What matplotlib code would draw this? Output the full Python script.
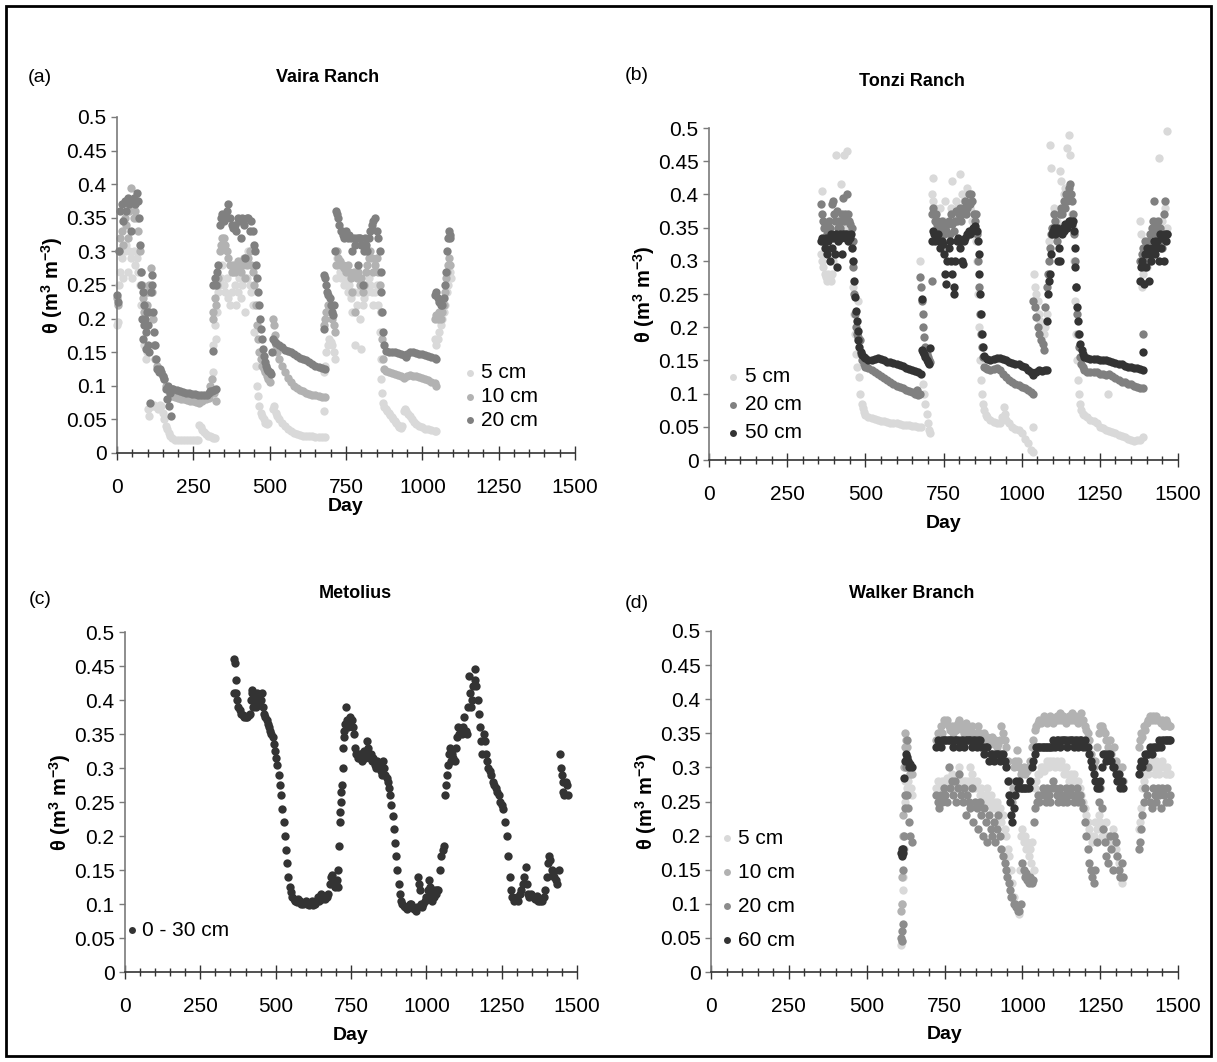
import matplotlib
matplotlib.use('agg')
import matplotlib.pyplot as plt
import numpy as np

plt.rcParams['font.family'] = ['Liberation Sans', 'DejaVu Sans']
plt.rcParams['mathtext.fontset'] = 'custom'
plt.rcParams['mathtext.rm'] = 'Liberation Sans'
plt.rcParams['mathtext.bf'] = 'Liberation Sans:bold'

W, H = 1217, 1062

# ---------------- data (day, theta) ----------------
# (a) Vaira Ranch
vaira_5cm = [(0, .19), (3, .195), (6, .25), (10, .27), (15, .29), (20, .26), (25, .30), (30, .31), (35, .27),
             (40, .30), (45, .29), (50, .26), (55, .30), (60, .28), (65, .29), (70, .27), (75, .25), (80, .22),
             (85, .20), (90, .16), (94, .14), (98, .15), (102, .065), (106, .055), (110, .07), (115, .07),
             (120, .072), (125, .07), (130, .068), (135, .065), (140, .072), (145, .07), (150, .06), (155, .05),
             (160, .04), (165, .035), (170, .03), (175, .025), (180, .022), (190, .02), (200, .02), (210, .02),
             (220, .02), (230, .02), (240, .02), (250, .02), (260, .02), (266, .02), (270, .042), (275, .038),
             (280, .034), (286, .031), (292, .028), (298, .026), (304, .025), (310, .024), (316, .022), (322, .022),
             (313, .12), (316, .16), (320, .19), (324, .17), (328, .21), (332, .24), (336, .25), (340, .26),
             (345, .28), (350, .25), (355, .24), (360, .26), (365, .23), (370, .22), (375, .24), (380, .27),
             (385, .25), (390, .22), (395, .24), (400, .26), (405, .23), (410, .25), (415, .28), (420, .21),
             (425, .26), (430, .30), (435, .25), (440, .24), (445, .22), (450, .18), (454, .13), (458, .10),
             (462, .085), (466, .07), (470, .06), (475, .055), (480, .05), (485, .045), (490, .043), (495, .045),
             (510, .065), (515, .07), (520, .06), (525, .055), (530, .05), (540, .045), (550, .04), (560, .036),
             (570, .032), (580, .03), (590, .028), (600, .027), (610, .026), (620, .025), (630, .025), (640, .025),
             (650, .024), (660, .024), (670, .024), (680, .024), (677, .063),
             (677, .12), (680, .13), (685, .15), (690, .16), (695, .17), (700, .165), (705, .16), (710, .15),
             (713, .14), (716, .26), (720, .29), (725, .28), (730, .27), (735, .26), (740, .27), (745, .25),
             (750, .26), (755, .24), (760, .25), (765, .23), (770, .21), (775, .24), (780, .16), (785, .22),
             (790, .24), (795, .20), (800, .155), (805, .22), (810, .23), (815, .25), (820, .24), (825, .26),
             (830, .25), (835, .24), (840, .22), (845, .24), (850, .25), (855, .22), (860, .18), (863, .14),
             (866, .11), (869, .09), (872, .075), (876, .068), (880, .065), (885, .062), (890, .06), (895, .056),
             (900, .053), (905, .05), (910, .047), (915, .044), (920, .041), (925, .039), (930, .037), (935, .04),
             (940, .063), (944, .065), (948, .062), (952, .058), (958, .055), (965, .05), (972, .046), (980, .043),
             (990, .04), (1000, .038), (1010, .036), (1020, .035), (1030, .034), (1040, .033), (1046, .033),
             (1041, .17), (1045, .16), (1050, .17), (1055, .18), (1060, .19), (1065, .20), (1070, .21),
             (1075, .22), (1080, .24), (1085, .25), (1090, .27), (1094, .26)]
vaira_10cm = [(0, .23), (3, .22), (6, .30), (10, .32), (15, .33), (20, .31), (25, .35), (30, .34), (35, .32),
              (40, .36), (45, .395), (50, .37), (55, .35), (60, .36), (65, .35), (70, .33), (74, .30), (78, .27),
              (82, .25), (86, .23), (90, .21), (94, .24), (98, .22), (102, .24), (106, .25), (110, .275),
              (114, .24), (118, .20), (122, .16), (126, .14), (130, .13), (135, .125), (140, .12), (145, .12),
              (150, .115), (155, .11), (160, .10), (165, .098), (170, .095), (175, .09), (180, .085), (190, .084),
              (200, .082), (210, .081), (220, .08), (230, .079), (240, .078), (250, .077), (260, .076), (270, .075),
              (280, .078), (290, .08), (300, .082), (306, .10), (312, .11), (318, .09), (324, .078),
              (313, .20), (316, .21), (320, .23), (324, .22), (328, .25), (332, .26), (336, .30), (340, .31),
              (345, .32), (350, .32), (355, .31), (360, .30), (365, .29), (370, .28), (375, .27), (380, .28),
              (385, .27), (390, .28), (395, .285), (400, .275), (405, .27), (410, .28), (415, .29), (420, .26),
              (425, .28), (430, .29), (435, .30), (440, .28), (445, .27), (450, .25), (454, .22), (458, .19),
              (462, .17), (466, .15), (470, .14), (475, .13), (480, .125), (485, .12), (490, .115), (495, .11),
              (500, .105), (510, .20), (513, .19), (516, .175), (520, .16), (525, .15), (530, .14), (540, .13),
              (550, .12), (560, .112), (570, .105), (580, .10), (590, .097), (600, .094), (610, .092), (620, .09),
              (630, .088), (640, .087), (650, .086), (660, .085), (670, .084), (680, .083),
              (677, .19), (680, .20), (685, .21), (690, .22), (695, .215), (700, .21), (705, .20), (710, .19),
              (713, .18), (716, .28), (720, .30), (725, .29), (730, .285), (735, .28), (740, .28), (745, .275),
              (750, .27), (755, .28), (760, .27), (765, .26), (770, .24), (775, .27), (780, .21), (785, .26),
              (790, .27), (795, .25), (800, .26), (805, .24), (810, .25), (815, .27), (820, .28), (825, .29),
              (830, .30), (835, .29), (840, .27), (845, .28), (850, .29), (855, .27), (860, .25), (864, .21),
              (868, .17), (872, .14), (876, .125), (880, .122), (890, .12), (900, .119), (910, .118), (920, .116),
              (930, .114), (940, .112), (950, .114), (960, .116), (970, .115), (980, .114), (990, .113),
              (1000, .112), (1010, .11), (1020, .108), (1030, .106), (1040, .104), (1046, .10),
              (1041, .20), (1045, .205), (1050, .20), (1055, .21), (1060, .20), (1065, .21), (1070, .22),
              (1075, .24), (1078, .26), (1081, .27), (1084, .28), (1087, .29), (1090, .28)]
vaira_20cm = [(0, .235), (3, .225), (6, .30), (10, .36), (15, .37), (20, .345), (25, .375), (30, .36),
              (35, .38), (40, .37), (45, .33), (50, .375), (55, .38), (60, .37), (64, .387), (68, .375),
              (72, .35), (76, .31), (78, .25), (80, .27), (82, .20), (84, .24), (86, .17), (88, .22), (90, .19),
              (92, .20), (94, .155), (96, .18), (98, .21), (100, .16), (102, .19), (104, .15), (106, .21),
              (108, .075), (110, .24), (113, .265), (116, .25), (119, .21), (122, .18), (125, .16), (128, .14),
              (132, .125), (136, .12), (140, .125), (145, .12), (150, .115), (155, .11), (160, .095), (163, .08),
              (166, .10), (170, .07), (174, .09), (178, .055), (180, .095), (185, .095), (195, .094), (205, .092),
              (215, .091), (225, .09), (235, .089), (245, .088), (255, .088), (265, .087), (275, .087),
              (285, .086), (295, .086), (300, .09), (306, .092), (312, .093), (318, .094), (324, .095),
              (313, .152), (316, .25), (320, .26), (324, .25), (328, .27), (332, .28), (336, .34), (340, .35),
              (345, .355), (350, .345), (355, .35), (360, .36), (365, .37), (370, .35), (375, .34), (380, .335),
              (385, .34), (390, .33), (395, .35), (400, .345), (405, .32), (410, .35), (415, .34), (420, .29),
              (425, .35), (430, .35), (435, .33), (440, .345), (445, .33), (450, .31), (453, .30), (456, .28),
              (459, .26), (462, .24), (465, .22), (468, .20), (471, .185), (474, .17), (477, .155), (480, .145),
              (484, .135), (488, .13), (492, .125), (496, .122), (500, .12), (503, .118), (508, .15), (512, .17),
              (516, .165), (520, .163), (530, .16), (540, .157), (550, .154), (560, .152), (570, .15),
              (580, .147), (590, .145), (600, .142), (610, .14), (620, .138), (630, .135), (640, .133),
              (650, .13), (660, .128), (670, .126), (680, .125),
              (677, .265), (677, .184), (680, .26), (684, .25), (688, .24), (692, .235), (696, .23), (700, .22),
              (704, .21), (708, .205), (712, .22), (714, .30), (717, .36), (720, .355), (724, .35), (728, .34),
              (732, .33), (736, .33), (740, .325), (745, .32), (750, .33), (755, .32), (760, .325), (765, .32),
              (770, .30), (775, .32), (780, .31), (785, .32), (790, .28), (793, .32), (797, .32), (800, .31),
              (805, .25), (808, .30), (812, .32), (816, .31), (820, .30), (825, .32), (830, .33), (835, .34),
              (840, .345), (845, .35), (850, .33), (855, .32), (860, .30), (863, .27), (866, .24), (869, .21),
              (872, .18), (875, .16), (880, .152), (890, .15), (900, .15), (910, .15), (920, .149), (930, .148),
              (940, .146), (945, .143), (950, .148), (960, .15), (970, .15), (980, .149), (990, .148),
              (1000, .147), (1010, .146), (1020, .145), (1030, .143), (1040, .141), (1046, .14),
              (1041, .235), (1045, .24), (1050, .23), (1055, .225), (1060, .22), (1065, .22), (1070, .23),
              (1075, .25), (1078, .27), (1081, .30), (1084, .32), (1087, .33), (1090, .32), (1092, .325)]

# (b) Tonzi Ranch
tonzi_5cm = [(358, .31), (360, .405), (363, .30), (366, .29), (370, .28), (374, .275), (378, .27), (382, .28),
             (386, .275), (390, .27), (394, .28), (398, .30), (402, .31), (406, .46), (410, .37), (414, .33),
             (418, .34), (422, .415), (426, .35), (430, .36), (432, .46), (436, .34), (440, .465), (444, .35),
             (448, .33), (452, .34), (456, .32), (459, .30), (462, .26), (465, .22), (468, .19), (471, .16),
             (474, .14), (477, .24), (480, .125), (484, .10), (488, .085), (492, .078), (496, .072), (500, .068),
             (510, .065), (520, .063), (530, .061), (540, .06), (550, .059), (560, .058), (570, .057), (580, .056),
             (590, .055), (600, .055), (610, .054), (620, .053), (630, .052), (640, .052), (650, .051),
             (660, .051), (670, .05), (678, .05),
             (675, .30), (685, .115), (688, .10), (692, .085), (696, .07), (700, .055), (704, .045), (708, .04),
             (712, .40), (715, .39), (718, .425), (722, .38), (726, .35), (730, .36), (734, .34), (738, .38),
             (742, .35), (746, .33), (750, .36), (754, .39), (758, .35), (762, .34), (766, .36), (770, .33),
             (774, .38), (778, .42), (782, .37), (786, .36), (790, .39), (794, .38), (798, .37), (802, .43),
             (806, .38), (810, .40), (814, .39), (818, .38), (822, .37), (826, .41), (830, .39), (834, .38),
             (838, .375), (842, .36), (846, .34), (850, .35), (854, .33), (858, .30), (861, .25), (864, .20),
             (867, .15), (870, .12), (873, .10), (876, .085), (880, .075), (885, .068), (890, .065), (900, .06),
             (910, .057), (920, .055), (930, .055), (938, .065), (942, .08), (946, .07), (950, .06), (960, .055),
             (970, .05), (980, .047), (990, .045), (1000, .04), (1010, .032), (1020, .025), (1030, .015),
             (1036, .012),
             (1037, .05), (1040, .28), (1043, .26), (1047, .25), (1051, .24), (1055, .22), (1060, .21),
             (1065, .20), (1070, .19), (1075, .20), (1080, .22),
             (1087, .33), (1090, .475), (1094, .44), (1098, .35), (1102, .38), (1106, .36), (1110, .34),
             (1114, .36), (1118, .37), (1122, .435), (1126, .42), (1130, .38), (1134, .40), (1138, .41),
             (1142, .39), (1146, .47), (1150, .49), (1154, .46), (1158, .40), (1162, .37), (1165, .35),
             (1168, .30), (1171, .24), (1174, .19), (1177, .15), (1180, .12), (1183, .10), (1186, .085),
             (1190, .075), (1195, .07), (1200, .068), (1210, .065), (1220, .06), (1230, .058), (1240, .055),
             (1250, .05), (1260, .048), (1270, .045), (1276, .10), (1280, .043), (1290, .042), (1300, .04),
             (1310, .038), (1320, .036), (1330, .034), (1340, .032), (1350, .03), (1360, .029), (1370, .03),
             (1380, .03), (1388, .035),
             (1377, .36), (1381, .34), (1385, .26), (1389, .28), (1393, .30), (1397, .32), (1401, .29),
             (1405, .31), (1409, .33), (1413, .30), (1417, .32), (1421, .34), (1425, .36), (1429, .33),
             (1433, .35), (1439, .455), (1442, .32), (1446, .34), (1450, .36), (1454, .33), (1458, .38),
             (1464, .495), (1466, .35)]
tonzi_20cm = [(358, .385), (361, .37), (364, .36), (368, .35), (372, .355), (376, .34), (380, .35), (384, .36),
              (388, .35), (392, .385), (396, .39), (400, .37), (404, .36), (408, .375), (412, .35), (416, .36),
              (420, .35), (424, .37), (428, .395), (432, .36), (436, .37), (440, .40), (444, .37), (448, .36),
              (452, .355), (456, .35), (459, .33), (462, .29), (465, .25), (468, .22), (471, .20), (474, .19),
              (478, .185), (482, .18), (486, .16), (490, .15), (495, .145), (500, .14), (510, .138), (520, .135),
              (530, .133), (540, .13), (550, .126), (560, .123), (570, .12), (580, .117), (590, .114), (600, .112),
              (610, .11), (620, .108), (630, .106), (640, .104), (650, .102), (660, .10), (665, .105), (670, .098),
              (676, .10),
              (674, .275), (677, .26), (680, .24), (683, .22), (686, .20), (689, .185), (692, .17), (696, .16),
              (700, .155), (704, .15), (708, .148), (712, .27),
              (714, .37), (718, .38), (722, .36), (726, .37), (730, .355), (734, .36), (738, .35), (742, .345),
              (746, .36), (750, .34), (754, .35), (758, .345), (762, .355), (766, .36), (770, .34), (774, .37),
              (778, .355), (782, .345), (786, .36), (790, .375), (794, .36), (798, .37), (802, .38), (806, .36),
              (810, .37), (814, .38), (818, .39), (822, .37), (826, .38), (830, .40), (834, .385), (838, .40),
              (842, .39), (846, .37), (850, .36), (854, .37), (858, .34), (861, .30), (864, .26), (867, .22),
              (870, .19), (873, .17), (876, .155), (880, .14), (885, .138), (890, .137), (900, .136), (910, .137),
              (920, .138), (930, .135), (940, .13), (950, .125), (960, .12), (970, .118), (980, .115),
              (990, .113), (1000, .11), (1010, .108), (1020, .105), (1030, .102), (1035, .10),
              (1037, .24), (1042, .23), (1047, .215), (1052, .20), (1057, .19), (1062, .18), (1067, .175),
              (1071, .165), (1075, .23), (1080, .26), (1084, .28), (1087, .30),
              (1090, .32), (1094, .34), (1098, .35), (1102, .37), (1106, .36), (1110, .34), (1114, .33),
              (1118, .35), (1122, .37), (1126, .38), (1130, .37), (1134, .39), (1138, .38), (1142, .40),
              (1146, .39), (1150, .41), (1154, .415), (1158, .40), (1162, .39), (1165, .37), (1168, .34),
              (1171, .30), (1174, .26), (1177, .22), (1180, .19), (1183, .17), (1186, .155), (1190, .145),
              (1195, .14), (1200, .135), (1210, .133), (1220, .132), (1230, .133), (1240, .132), (1250, .13),
              (1260, .13), (1270, .128), (1280, .13), (1290, .127), (1300, .124), (1310, .12), (1320, .118),
              (1330, .117), (1340, .115), (1350, .114), (1360, .112), (1370, .11), (1380, .109), (1388, .108),
              (1389, .19),
              (1380, .30), (1384, .31), (1388, .32), (1392, .29), (1396, .33), (1400, .31), (1404, .33),
              (1408, .30), (1412, .34), (1416, .35), (1420, .36), (1424, .39), (1428, .35), (1432, .34),
              (1436, .36), (1440, .33), (1444, .35), (1448, .32), (1452, .34), (1456, .37), (1460, .39),
              (1464, .34)]
tonzi_50cm = [(358, .33), (362, .335), (366, .33), (370, .32), (374, .335), (378, .31), (382, .33), (386, .30),
              (390, .34), (394, .32), (398, .335), (402, .31), (406, .34), (410, .29), (414, .33), (418, .34),
              (422, .335), (426, .31), (430, .34), (434, .34), (438, .335), (442, .34), (446, .33), (450, .335),
              (455, .34), (458, .32), (460, .30), (463, .27), (466, .245), (469, .225), (472, .21), (475, .195),
              (478, .18), (481, .17), (485, .163), (490, .158), (495, .155), (500, .153), (510, .15), (520, .15),
              (530, .152), (540, .153), (550, .152), (560, .15), (570, .148), (580, .147), (590, .146),
              (600, .145), (610, .143), (620, .141), (630, .139), (640, .137), (650, .135), (660, .134),
              (670, .132), (678, .13),
              (680, .165), (684, .163), (688, .16), (692, .155), (696, .15), (700, .148), (704, .145),
              (682, .242), (708, .168),
              (712, .33), (716, .345), (720, .34), (724, .33), (728, .335), (732, .34), (736, .33), (740, .32),
              (744, .33), (748, .325), (752, .31), (756, .28), (759, .265), (762, .30), (766, .32), (770, .33),
              (774, .30), (778, .28), (782, .26), (785, .25), (788, .30), (792, .33), (796, .335), (800, .33),
              (804, .32), (808, .30), (812, .295), (816, .33), (820, .335), (824, .34), (828, .34), (832, .345),
              (836, .34), (840, .345), (844, .35), (848, .35), (852, .352), (856, .345), (859, .33), (862, .31),
              (865, .28), (868, .25), (871, .22), (874, .19), (877, .17), (880, .157), (890, .152), (900, .15),
              (910, .152), (920, .154), (930, .154), (940, .152), (950, .15), (960, .148), (970, .146),
              (980, .145), (990, .144), (1000, .142), (1010, .14), (1020, .136), (1030, .132), (1037, .128),
              (1045, .133), (1055, .135), (1065, .134), (1075, .135), (1081, .136),
              (1081, .21), (1084, .25), (1087, .27), (1090, .28), (1093, .31), (1096, .34), (1100, .345),
              (1104, .35), (1108, .34), (1112, .35), (1116, .30), (1120, .32), (1124, .30), (1128, .34),
              (1132, .35), (1136, .345), (1140, .355), (1144, .35), (1148, .355), (1152, .36), (1156, .36),
              (1160, .355), (1163, .36), (1166, .345), (1169, .32), (1172, .29), (1175, .26), (1178, .23),
              (1181, .21), (1184, .19), (1188, .175), (1192, .165), (1196, .16), (1200, .155), (1210, .153),
              (1220, .152), (1230, .152), (1240, .152), (1250, .151), (1260, .15), (1270, .15), (1280, .149),
              (1290, .148), (1300, .146), (1310, .145), (1320, .144), (1330, .142), (1340, .14), (1350, .14),
              (1360, .139), (1370, .138), (1380, .137), (1388, .135), (1389, .163),
              (1379, .27), (1382, .29), (1386, .30), (1390, .265), (1394, .31), (1398, .29), (1402, .32),
              (1406, .27), (1410, .31), (1414, .30), (1418, .32), (1422, .33), (1426, .31), (1430, .32),
              (1434, .33), (1438, .30), (1442, .34), (1446, .32), (1450, .335), (1454, .30), (1458, .34),
              (1462, .33), (1465, .34)]

# (c) Metolius
metolius_0_30cm = [(362, .41), (363, .46), (365, .455), (367, .43), (369, .41), (372, .40), (375, .39),
                   (380, .385), (385, .38), (390, .378), (395, .375), (400, .375), (405, .375), (410, .378),
                   (414, .38), (418, .40), (420, .415), (423, .41), (426, .39), (430, .40), (434, .39),
                   (438, .41), (442, .40), (446, .395), (450, .40), (454, .41), (458, .39), (462, .38),
                   (466, .375), (470, .37), (474, .365), (478, .36), (482, .355), (486, .35), (490, .345),
                   (494, .335), (498, .325), (502, .315), (506, .305), (510, .29), (514, .275), (518, .26),
                   (522, .24), (526, .22), (530, .20), (534, .18), (538, .16), (542, .14), (546, .125),
                   (550, .117), (555, .11), (560, .107), (565, .105), (570, .103), (575, .108), (580, .104),
                   (585, .10), (590, .10), (595, .102), (600, .105), (605, .10), (610, .098), (615, .10),
                   (620, .105), (625, .098), (630, .10), (635, .104), (640, .11), (645, .105), (650, .115),
                   (655, .108), (660, .11), (665, .107), (670, .11), (675, .115), (680, .13), (684, .14),
                   (688, .142), (692, .135), (696, .125), (700, .13), (704, .135), (706, .125), (708, .15),
                   (710, .185), (712, .22), (714, .235), (716, .25), (718, .265), (720, .275), (722, .30),
                   (724, .33), (726, .345), (728, .355), (730, .365), (733, .39), (736, .37), (740, .36),
                   (744, .365), (748, .375), (752, .37), (756, .36), (760, .35), (764, .33), (768, .32),
                   (772, .315), (776, .32), (780, .315), (784, .32), (788, .31), (792, .325), (796, .315),
                   (800, .32), (804, .34), (808, .33), (812, .315), (816, .32), (820, .31), (824, .315),
                   (828, .305), (832, .30), (836, .31), (840, .305), (844, .30), (848, .295), (852, .29),
                   (856, .31), (860, .30), (864, .29), (868, .285), (872, .28), (876, .27), (880, .26),
                   (884, .245), (888, .23), (892, .21), (896, .19), (900, .17), (904, .15), (908, .13),
                   (912, .115), (916, .105), (920, .10), (925, .097), (930, .095), (935, .093), (940, .095),
                   (945, .10), (950, .10), (955, .094), (960, .092), (965, .09), (970, .095), (974, .14),
                   (976, .13), (978, .12), (982, .10), (986, .095), (990, .10), (994, .105), (998, .11),
                   (1004, .12), (1008, .135), (1012, .125), (1016, .115), (1020, .105), (1024, .11),
                   (1028, .12), (1032, .115), (1036, .12), (1040, .12), (1045, .15), (1050, .17), (1055, .18),
                   (1058, .185), (1062, .26), (1065, .275), (1068, .29), (1071, .305), (1074, .32), (1078, .33),
                   (1082, .31), (1086, .32), (1090, .315), (1094, .31), (1098, .33), (1102, .345), (1106, .36),
                   (1110, .35), (1114, .355), (1118, .35), (1122, .36), (1126, .375), (1130, .355), (1134, .35),
                   (1138, .39), (1142, .435), (1145, .41), (1148, .39), (1152, .40), (1156, .42), (1160, .445),
                   (1163, .43), (1166, .42), (1170, .40), (1174, .38), (1178, .36), (1182, .34), (1186, .32),
                   (1190, .35), (1194, .34), (1198, .32), (1202, .31), (1206, .30), (1210, .295), (1215, .29),
                   (1220, .28), (1225, .275), (1230, .27), (1235, .265), (1240, .26), (1245, .25), (1250, .245),
                   (1256, .24), (1262, .22), (1268, .20), (1272, .17), (1276, .14), (1280, .12), (1285, .11),
                   (1290, .105), (1295, .108), (1300, .11), (1305, .105), (1310, .115), (1315, .12),
                   (1320, .13), (1325, .14), (1330, .155), (1334, .13), (1338, .115), (1342, .11), (1348, .115),
                   (1354, .11), (1360, .108), (1366, .112), (1372, .105), (1378, .104), (1384, .105),
                   (1390, .11), (1395, .12), (1400, .14), (1404, .16), (1408, .17), (1412, .165), (1416, .15),
                   (1420, .145), (1425, .14), (1430, .135), (1435, .13), (1440, .15), (1443, .32), (1446, .30),
                   (1449, .29), (1452, .28), (1455, .265), (1458, .26), (1462, .28), (1466, .275), (1469, .26)]

# (d) Walker Branch
walker_5cm = [(610, .04), (612, .045), (614, .10), (616, .12), (618, .14), (620, .18), (622, .25), (624, .28),
              (627, .30), (630, .27), (634, .28), (638, .29), (642, .27), (646, .26),
              (723, .27), (728, .28), (733, .27), (738, .275), (743, .28), (748, .27), (753, .28), (758, .285),
              (763, .28), (768, .27), (773, .29), (778, .28), (783, .275), (788, .27), (793, .28), (798, .30),
              (803, .28), (808, .27), (813, .28), (818, .28), (823, .27), (828, .28), (833, .30), (838, .29),
              (843, .28), (848, .27), (853, .28), (858, .27), (863, .26), (868, .27), (873, .26), (878, .25),
              (883, .26), (888, .27), (893, .25), (898, .26), (903, .24), (908, .25), (913, .24), (918, .25),
              (923, .23), (928, .24), (933, .22), (938, .23), (943, .21), (948, .20), (953, .18), (958, .17),
              (963, .15), (968, .13), (973, .11), (978, .10), (983, .095), (988, .085), (992, .15), (996, .20),
              (1000, .21), (1004, .19), (1008, .20), (1012, .18), (1016, .19), (1020, .17), (1024, .18),
              (1028, .16), (1032, .19), (1036, .15), (1040, .27), (1045, .28), (1050, .29), (1055, .29),
              (1060, .30), (1065, .30), (1070, .295), (1075, .30), (1080, .31), (1085, .30), (1090, .31),
              (1095, .305), (1100, .31), (1105, .30), (1110, .31), (1115, .305), (1120, .30), (1125, .31),
              (1130, .30), (1135, .29), (1140, .30), (1145, .29), (1150, .28), (1155, .29), (1160, .28),
              (1165, .29), (1170, .28), (1175, .27), (1180, .28), (1185, .27), (1190, .26), (1195, .25),
              (1200, .24), (1205, .23), (1210, .22), (1215, .21), (1220, .20), (1225, .19), (1230, .20),
              (1235, .22), (1240, .21), (1245, .23), (1250, .22), (1255, .20), (1260, .21), (1265, .20),
              (1270, .22), (1275, .20), (1280, .19), (1285, .20), (1290, .21), (1295, .20), (1300, .18),
              (1305, .17), (1310, .16), (1315, .14), (1320, .13), (1324, .14),
              (1375, .21), (1378, .22), (1381, .24), (1385, .27), (1390, .28), (1395, .29), (1400, .30),
              (1405, .29), (1410, .30), (1415, .31), (1420, .30), (1425, .29), (1430, .31), (1435, .30),
              (1440, .29), (1445, .30), (1450, .31), (1455, .30), (1460, .29), (1465, .30), (1470, .29),
              (1475, .29)]
walker_10cm = [(610, .09), (612, .10), (614, .14), (616, .20), (618, .23), (620, .30), (622, .33), (624, .35),
               (626, .34), (629, .33), (632, .31), (636, .30), (640, .29), (645, .29),
               (723, .34), (728, .35), (733, .35), (738, .36), (743, .35), (748, .37), (753, .365), (758, .37),
               (763, .36), (768, .355), (773, .36), (778, .35), (783, .36), (788, .355), (793, .365), (798, .37),
               (803, .36), (808, .355), (813, .35), (818, .365), (823, .36), (828, .355), (833, .35), (838, .36),
               (843, .35), (848, .345), (853, .35), (858, .36), (863, .35), (868, .34), (873, .345), (878, .35),
               (883, .34), (888, .345), (893, .335), (898, .34), (903, .345), (908, .335), (913, .34),
               (918, .33), (923, .335), (928, .34), (933, .36), (938, .35), (943, .34), (948, .33), (953, .31),
               (958, .28), (962, .26), (966, .25), (970, .27), (974, .30), (978, .31), (982, .325), (986, .31),
               (990, .30), (995, .29), (1000, .295), (1005, .30), (1010, .29), (1015, .295), (1020, .30),
               (1025, .31), (1030, .33), (1035, .34), (1040, .355), (1045, .36), (1050, .365), (1055, .37),
               (1060, .365), (1065, .37), (1070, .375), (1075, .37), (1080, .365), (1085, .37), (1090, .375),
               (1095, .37), (1100, .365), (1105, .37), (1110, .375), (1115, .37), (1120, .38), (1125, .37),
               (1130, .375), (1135, .37), (1140, .365), (1145, .37), (1150, .375), (1155, .37), (1160, .38),
               (1165, .37), (1170, .375), (1175, .37), (1180, .365), (1185, .37), (1190, .38), (1195, .37),
               (1200, .36), (1205, .355), (1210, .35), (1215, .34), (1220, .32), (1225, .31), (1230, .30),
               (1235, .31), (1240, .33), (1245, .35), (1250, .36), (1255, .36), (1260, .355), (1265, .35),
               (1270, .34), (1275, .33), (1280, .34), (1285, .32), (1290, .30), (1295, .33), (1300, .31),
               (1305, .29), (1310, .30), (1315, .28), (1320, .30), (1324, .28),
               (1375, .33), (1378, .34), (1381, .35), (1385, .345), (1390, .36), (1395, .355), (1400, .365),
               (1405, .37), (1410, .375), (1415, .37), (1420, .375), (1425, .37), (1430, .375), (1435, .37),
               (1440, .37), (1445, .365), (1450, .37), (1455, .36), (1460, .37), (1465, .365), (1470, .36),
               (1475, .36)]
walker_20cm = [(610, .05), (612, .045), (614, .06), (616, .07), (618, .15), (620, .20), (622, .24), (624, .26),
               (626, .30), (628, .34), (630, .26), (633, .24), (636, .22), (640, .20), (645, .19),
               (723, .26), (728, .25), (733, .24), (738, .26), (743, .25), (748, .27), (753, .26), (758, .25),
               (763, .30), (768, .27), (773, .28), (778, .26), (783, .28), (788, .25), (793, .27), (798, .29),
               (803, .26), (808, .25), (813, .27), (818, .23), (823, .26), (828, .25), (833, .24), (838, .27),
               (843, .22), (848, .25), (853, .24), (858, .21), (863, .25), (868, .23), (873, .20), (878, .24),
               (883, .22), (888, .19), (893, .23), (898, .21), (903, .20), (908, .22), (913, .19), (918, .21),
               (923, .23), (928, .20), (933, .18), (938, .17), (943, .16), (948, .15), (952, .14), (956, .13),
               (960, .12), (964, .11), (968, .11), (972, .10), (976, .10), (980, .095), (985, .09), (990, .09),
               (995, .10), (1000, .16), (1004, .15), (1008, .14), (1012, .145), (1016, .135), (1020, .13),
               (1025, .14), (1030, .13), (1034, .135), (1038, .22), (1042, .24), (1046, .25), (1050, .26),
               (1055, .25), (1060, .26), (1065, .27), (1070, .26), (1075, .25), (1080, .27), (1085, .26),
               (1090, .25), (1095, .27), (1100, .28), (1105, .27), (1110, .26), (1115, .25), (1120, .27),
               (1125, .26), (1130, .25), (1135, .26), (1140, .27), (1145, .25), (1150, .26), (1155, .27),
               (1160, .26), (1165, .25), (1170, .26), (1175, .27), (1180, .25), (1185, .26), (1190, .25),
               (1195, .24), (1200, .22), (1205, .20), (1210, .18), (1215, .16), (1220, .15), (1225, .14),
               (1230, .13), (1235, .15), (1240, .19), (1245, .25), (1250, .27), (1255, .24), (1260, .21),
               (1265, .19), (1270, .17), (1275, .16), (1280, .20), (1285, .18), (1290, .15), (1295, .20),
               (1300, .19), (1305, .17), (1310, .15), (1315, .14), (1320, .16), (1324, .14),
               (1375, .18), (1378, .19), (1381, .21), (1385, .23), (1390, .25), (1395, .27), (1400, .26),
               (1405, .30), (1410, .25), (1415, .24), (1420, .27), (1425, .26), (1430, .25), (1435, .27),
               (1440, .26), (1445, .24), (1450, .27), (1455, .26), (1460, .25), (1465, .27), (1470, .25),
               (1475, .26)]
walker_60cm = [(610, .175), (612, .18), (614, .17), (616, .18), (618, .175), (620, .285), (623, .31), (626, .32),
               (629, .315), (632, .31), (636, .30), (640, .305), (645, .30),
               (723, .33), (728, .34), (733, .335), (738, .33), (743, .34), (748, .34), (753, .34), (758, .34),
               (763, .34), (768, .34), (773, .34), (778, .33), (783, .34), (788, .34), (793, .34), (798, .33),
               (803, .34), (808, .34), (813, .33), (818, .34), (823, .34), (828, .34), (833, .34), (838, .33),
               (843, .34), (848, .34), (853, .33), (858, .34), (863, .34), (868, .33), (873, .33), (878, .32),
               (883, .33), (888, .33), (893, .31), (898, .32), (903, .32), (908, .31), (913, .32), (918, .32),
               (923, .32), (928, .31), (933, .32), (938, .32), (943, .31), (948, .30), (953, .28), (957, .26),
               (961, .25), (965, .23), (968, .22), (972, .24), (976, .26), (980, .28), (985, .27), (990, .28),
               (995, .27), (1000, .27), (1005, .27), (1010, .27), (1015, .27), (1020, .27), (1025, .28),
               (1030, .30), (1035, .31), (1040, .32), (1045, .33), (1050, .33), (1055, .33), (1060, .33),
               (1065, .33), (1070, .33), (1075, .33), (1080, .33), (1085, .33), (1090, .33), (1095, .33),
               (1100, .34), (1105, .33), (1110, .34), (1115, .34), (1120, .33), (1125, .34), (1130, .34),
               (1135, .34), (1140, .34), (1145, .33), (1150, .34), (1155, .34), (1160, .34), (1165, .33),
               (1170, .34), (1175, .34), (1180, .33), (1185, .34), (1190, .34), (1195, .33), (1200, .34),
               (1205, .33), (1210, .33), (1215, .32), (1220, .31), (1225, .30), (1230, .29), (1235, .28),
               (1240, .27), (1245, .27), (1250, .28), (1255, .30), (1260, .32), (1265, .32), (1270, .31),
               (1275, .32), (1280, .32), (1285, .31), (1290, .30), (1295, .30), (1300, .29), (1305, .28),
               (1310, .29), (1315, .27), (1320, .28), (1324, .27),
               (1375, .29), (1378, .30), (1381, .31), (1385, .30), (1390, .31), (1395, .32), (1400, .32),
               (1405, .32), (1410, .33), (1415, .32), (1420, .33), (1425, .33), (1430, .33), (1435, .33),
               (1440, .34), (1445, .33), (1450, .34), (1455, .34), (1460, .34), (1465, .34), (1470, .34),
               (1475, .34)]

y_ticks = [0, 0.05, 0.1, 0.15, 0.2, 0.25, 0.3, 0.35, 0.4, 0.45, 0.5]
y_tick_labels = ['0', '0.05', '0.1', '0.15', '0.2', '0.25', '0.3', '0.35', '0.4', '0.45', '0.5']
x_ticks = [0, 250, 500, 750, 1000, 1250, 1500]

c_light, c_mid, c_gray, c_gray2, c_dark = '#d9d9d9', '#b2b2b2', '#808080', '#8c8c8c', '#333333'

panels = [
    # axes box in pixels (left, right, top, bottom), series, colours, "Day" label pad
    ((117, 575, 117, 453), [vaira_5cm, vaira_10cm, vaira_20cm], [c_light, c_mid, c_gray], 1),
    ((709, 1178, 128, 460), [tonzi_5cm, tonzi_20cm, tonzi_50cm], [c_light, c_gray, c_dark], 8),
    ((125, 577, 632, 972), [metolius_0_30cm], [c_dark], 8),
    ((711, 1178, 631, 972), [walker_5cm, walker_10cm, walker_20cm, walker_60cm],
     [c_light, c_mid, c_gray2, c_dark], 7),
]

fig = plt.figure(figsize=(W / 100, H / 100), dpi=100)
fs = 15

ylab = r'θ (m$^{\mathbf{3}}$ m$^{\mathbf{-3}}$)'

for (l, r, t, b), series, colors, dpad in panels:
    ax = fig.add_axes([l / W, 1 - b / H, (r - l) / W, (b - t) / H])
    for s, c in zip(series, colors):
        d = np.array(s)
        ax.plot(d[:, 0], d[:, 1], 'o', ms=6, mew=0, color=c, clip_on=False)
    ax.set_xlim(0, 1500)
    ax.set_ylim(0, 0.5)
    ax.set_yticks(y_ticks)
    ax.set_yticklabels(y_tick_labels)
    ax.set_xticks(x_ticks)
    ax.set_xticks(np.arange(0, 1501, 50), minor=True)
    for sp in ['top', 'right']:
        ax.spines[sp].set_visible(False)
    ax.spines['left'].set_color('#7a7a7a')
    ax.spines['bottom'].set_color('#333333')
    ax.spines['left'].set_linewidth(1.2)
    ax.spines['bottom'].set_linewidth(1.2)
    ax.tick_params(axis='y', direction='out', length=4, width=1, color='#7a7a7a', labelsize=fs, pad=3.5)
    ax.tick_params(axis='x', which='major', direction='inout', length=10, width=1, color='#333333',
                   labelsize=fs, pad=13)
    ax.tick_params(axis='x', which='minor', direction='inout', length=6, width=1, color='#333333')
    ax.set_xlabel('Day', fontsize=14, fontweight='bold', labelpad=dpad)
    ax.set_ylabel(ylab, fontsize=14.5, fontweight='bold', labelpad=0.5)

# overlay in pixel coordinates for titles, panel letters, keys and frame
ov = fig.add_axes([0, 0, 1, 1], facecolor='none')
ov.set_xlim(0, W)
ov.set_ylim(H, 0)
ov.axis('off')

letters = [('(a)', 40, 78), ('(b)', 637, 75), ('(c)', 40, 600), ('(d)', 637, 604)]
for txt, x, y in letters:
    ov.text(x, y, txt, fontsize=14, ha='center', va='center')
names = [('Vaira Ranch', 328, 78), ('Tonzi Ranch', 912, 82), ('Metolius', 355, 593), ('Walker Branch', 912, 593)]
for txt, x, y in names:
    ov.text(x, y, txt, fontsize=13, fontweight='bold', ha='center', va='center')

keys = [
    (470, 481, [373, 397, 420], [c_light, c_mid, c_gray], ['5 cm', '10 cm', '20 cm']),
    (733, 745, [377, 405, 433], [c_light, c_gray, c_dark], ['5 cm', '20 cm', '50 cm']),
    (132, 142, [930], [c_dark], ['0 - 30 cm']),
    (727, 738, [838, 872, 906, 940], [c_light, c_mid, c_gray2, c_dark], ['5 cm', '10 cm', '20 cm', '60 cm']),
]
for mx, tx, ys, cols, labs in keys:
    for y, c, lab in zip(ys, cols, labs):
        ov.plot([mx], [y], 'o', ms=5, mew=0, color=c)
        ov.text(tx, y, lab, fontsize=fs, ha='left', va='center')

ov.add_patch(plt.Rectangle((6, 6), W - 12, H - 12, fill=False, lw=2, edgecolor='black'))

fig.savefig('out.png', dpi=100)
